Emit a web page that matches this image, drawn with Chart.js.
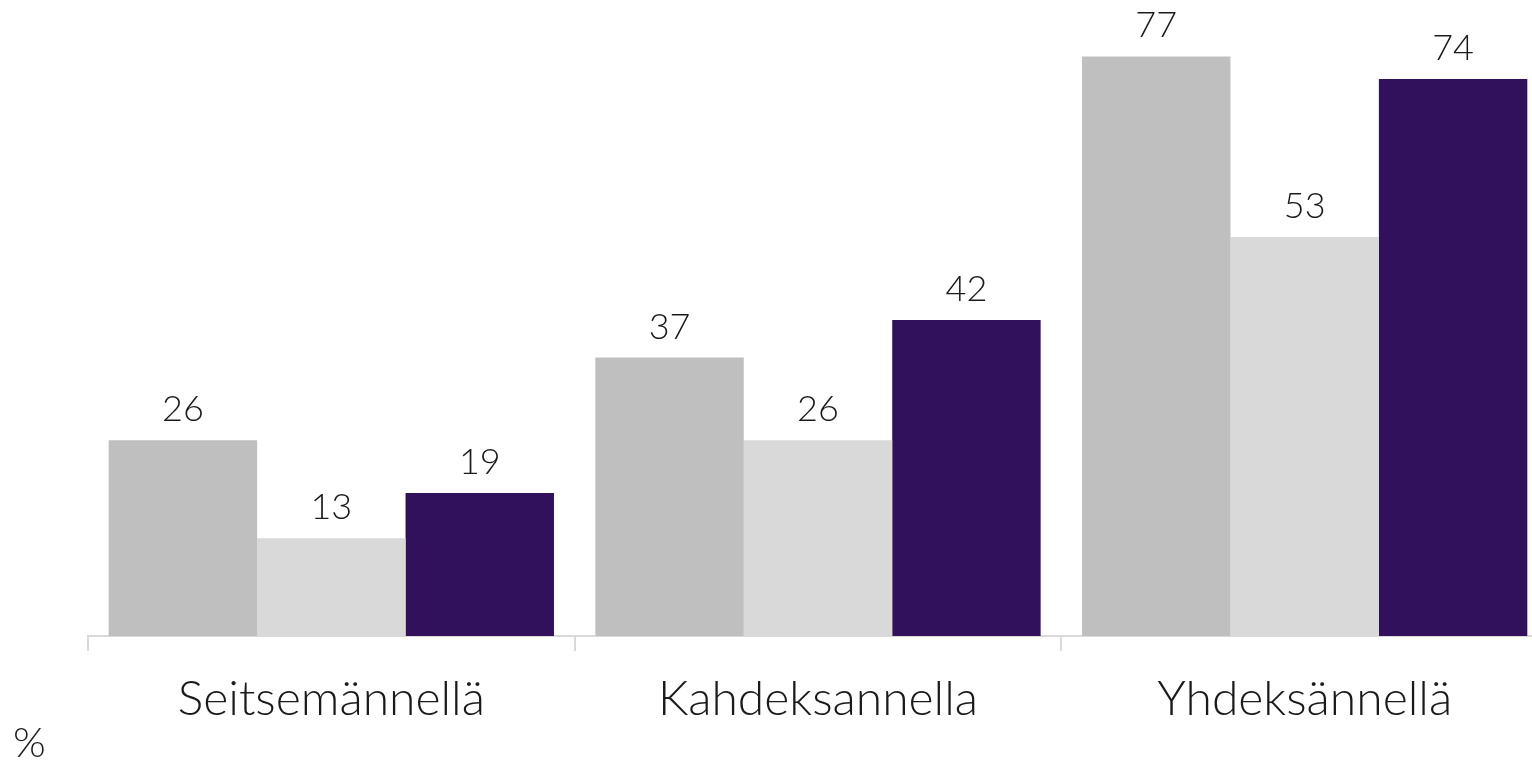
<!DOCTYPE html>
<html>
<head>
<meta charset="utf-8">
<script src="https://cdn.jsdelivr.net/npm/chart.js@4.4.1/dist/chart.umd.min.js"></script>
<style>
  html, body { margin: 0; padding: 0; background: #fff; overflow: hidden; }
  #wrap { width: 1548px; height: 760px; position: relative; }
</style>
</head>
<body>
<div id="wrap"><canvas id="chart_1"></canvas></div>
<script>
const categories = ["Seitsemännellä", "Kahdeksannella", "Yhdeksännellä"];
const series_1 = [26, 37, 77];
const series_2 = [13, 26, 53];
const series_3 = [19, 42, 74];
const unit_label = "%";

const font_family = "Lato, 'Open Sans', sans-serif";
const text_color = "#1a1a1a";

const value_labels = {
  id: 'value_labels',
  afterDatasetsDraw(chart) {
    const ctx = chart.ctx;
    ctx.save();
    ctx.font = `300 36px ${font_family}`;
    ctx.fillStyle = text_color;
    ctx.textAlign = 'center';
    ctx.textBaseline = 'alphabetic';
    chart.data.datasets.forEach((ds, i) => {
      chart.getDatasetMeta(i).data.forEach((bar, j) => {
        ctx.fillText(ds.data[j], bar.x, bar.y - 19);
      });
    });
    ctx.restore();
  }
};

const unit_text = {
  id: 'unit_text',
  afterDraw(chart) {
    const ctx = chart.ctx;
    ctx.save();
    ctx.font = `300 42px ${font_family}`;
    ctx.fillStyle = text_color;
    ctx.textAlign = 'left';
    ctx.textBaseline = 'alphabetic';
    ctx.fillText(unit_label, 13, 757);
    ctx.restore();
  }
};

const ctx = document.getElementById('chart_1').getContext('2d');
const chart = new Chart(ctx, {
  type: 'bar',
  data: {
    labels: categories,
    datasets: [
      { data: series_1, backgroundColor: "#bfbfbf" },
      { data: series_2, backgroundColor: "#d9d9d9" },
      { data: series_3, backgroundColor: "#31105c" }
    ]
  },
  options: {
    responsive: true,
    maintainAspectRatio: false,
    animation: false,
    layout: { padding: { left: 88, right: 0, top: 0, bottom: 0 } },
    plugins: {
      legend: { display: false },
      tooltip: { enabled: false }
    },
    datasets: {
      bar: { barPercentage: 1, categoryPercentage: 0.915 }
    },
    scales: {
      x: {
        afterFit: (scale) => { scale.height = 124; },
        grid: {
          offset: true,
          drawOnChartArea: false,
          drawTicks: true,
          tickLength: 15,
          color: "#d9d9d9",
          lineWidth: 2
        },
        border: { display: true, color: "#d9d9d9", width: 2 },
        ticks: {
          color: text_color,
          font: { family: font_family, size: 48, weight: 300 },
          padding: 20
        }
      },
      y: {
        display: false,
        min: 0,
        max: 84.5
      }
    }
  },
  plugins: [value_labels, unit_text]
});
</script>
</body>
</html>
